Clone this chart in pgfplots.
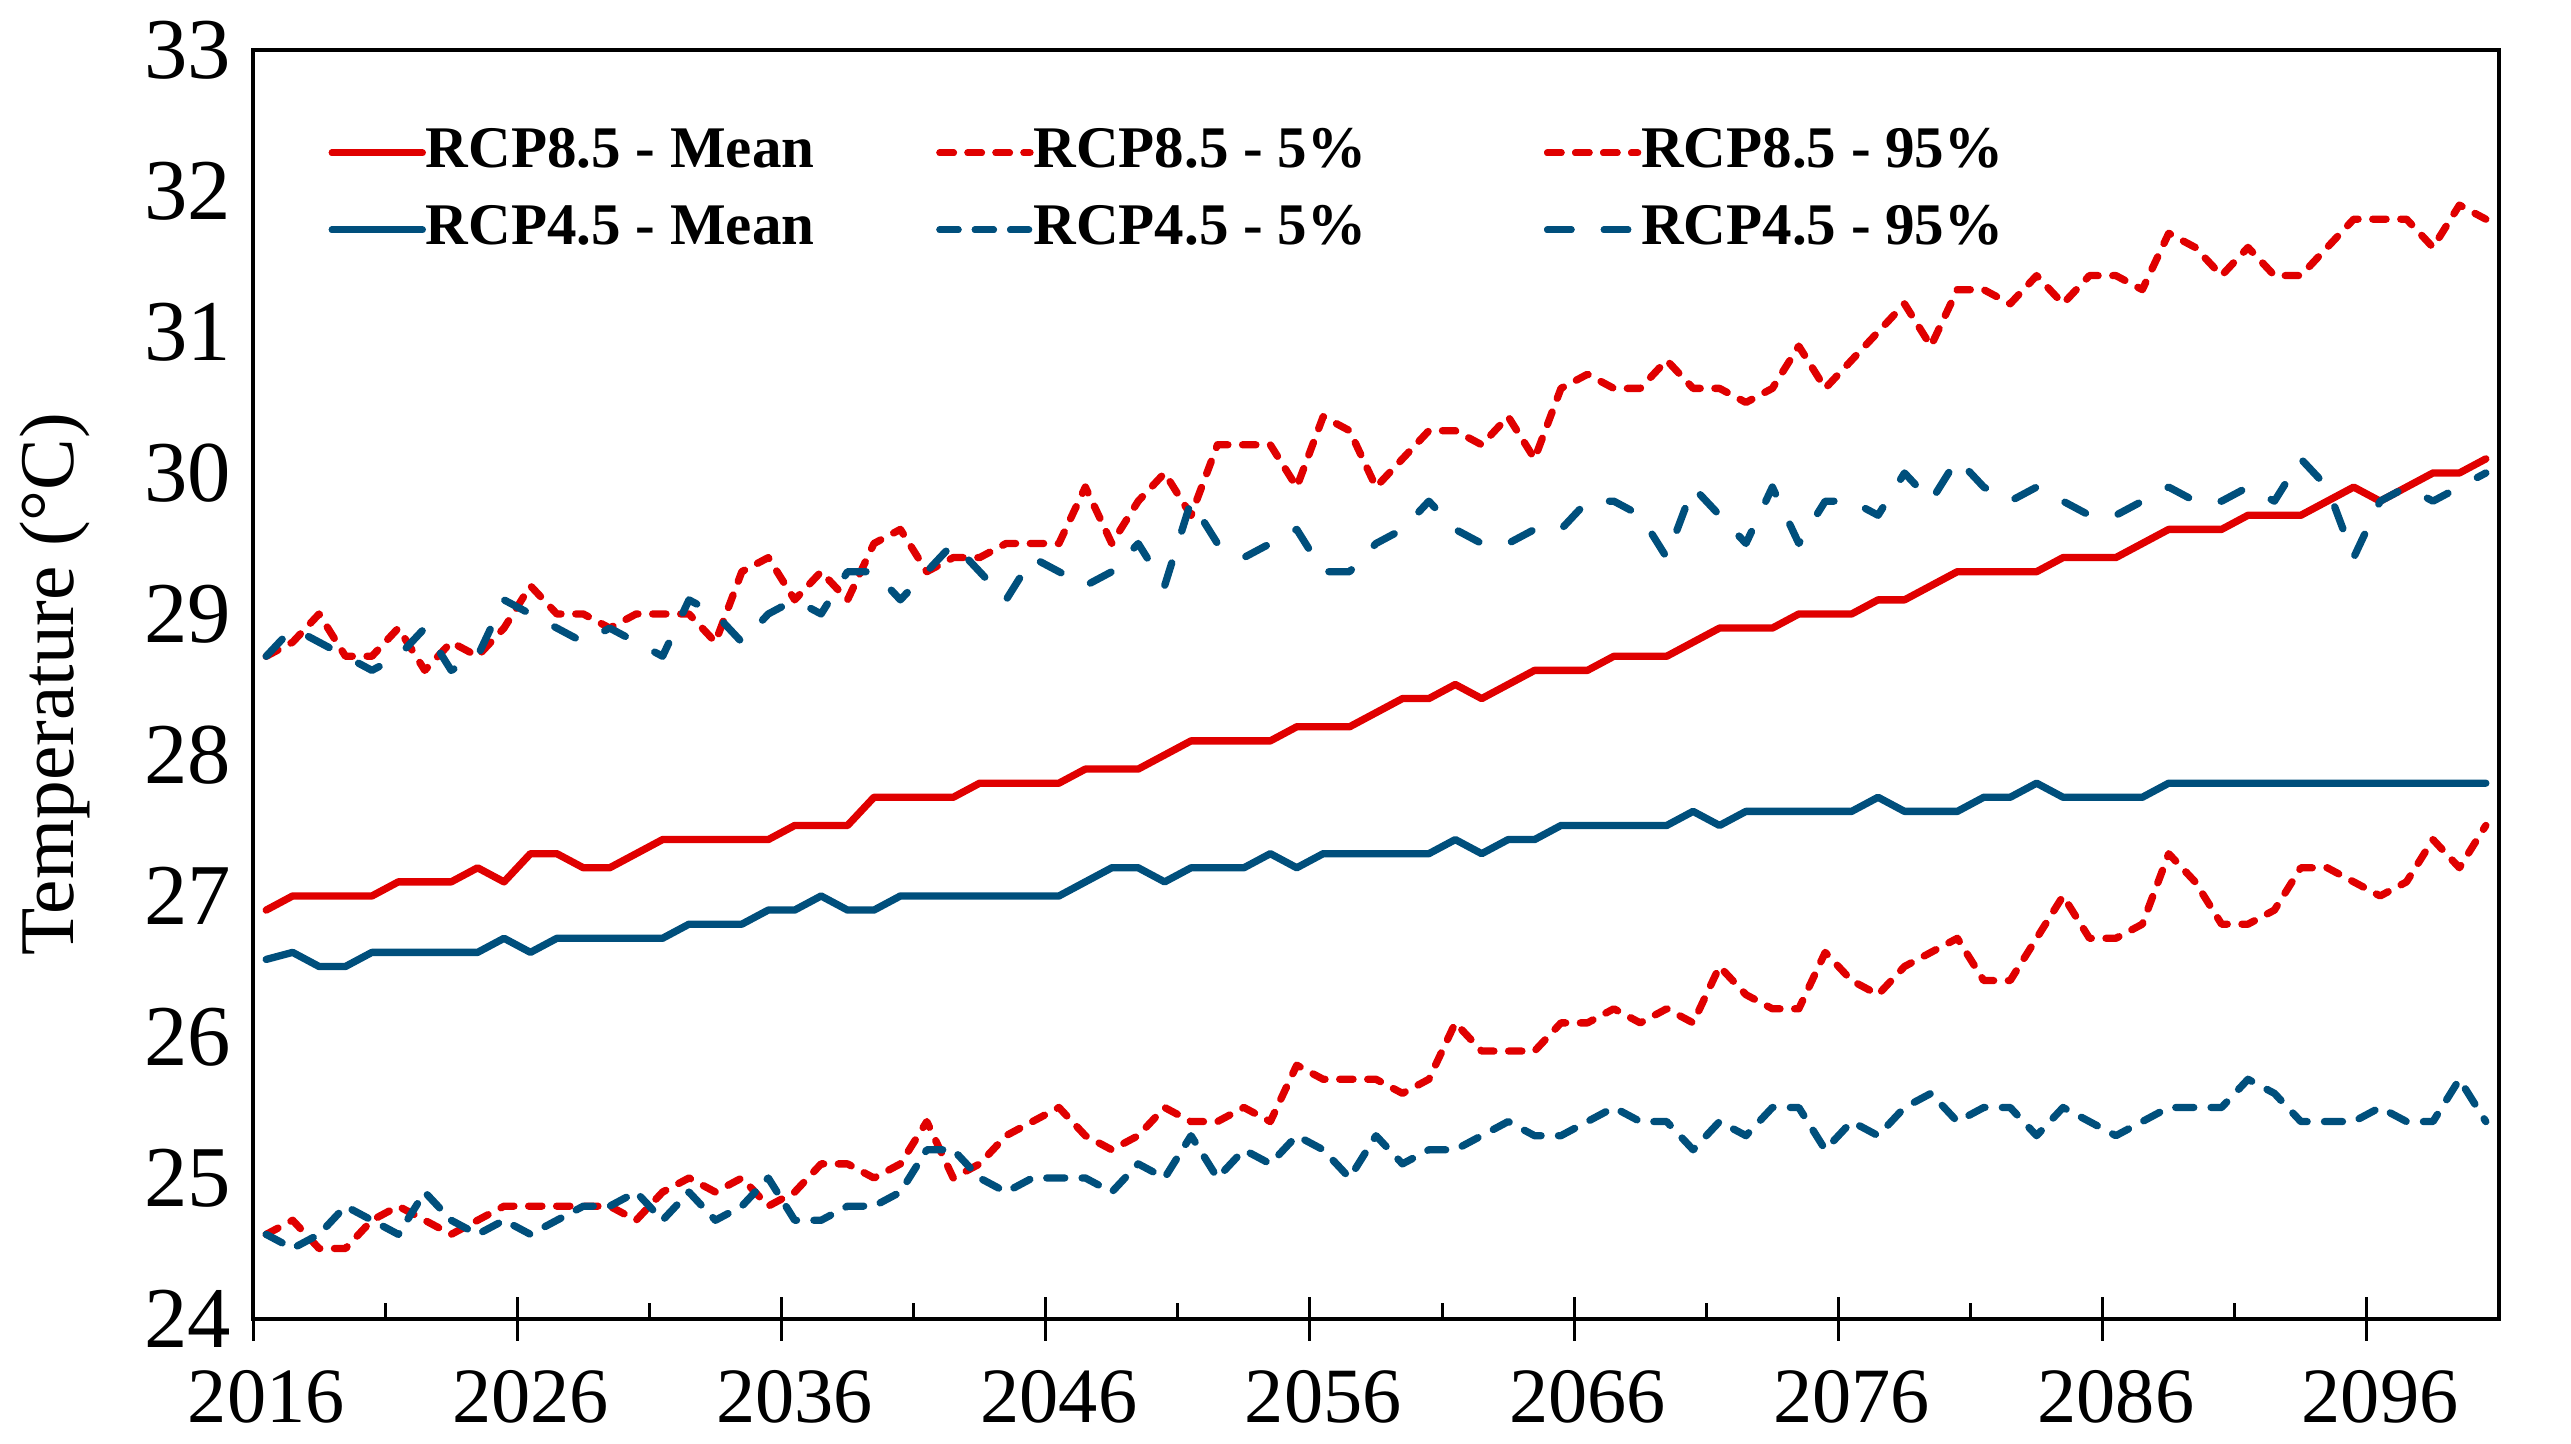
\documentclass[border=0pt]{standalone}
\usepackage{fontspec}
\setmainfont{Liberation Serif}
\usepackage{pgfplots}
\usepackage{pgfplotstable}
\pgfplotsset{compat=1.18}
\definecolor{rcpred}{RGB}{224,0,0}
\definecolor{rcpblue}{RGB}{0,79,124}

\pgfplotstableread{
year m85 l85 h85 m45 l45 h45
2016 26.9 24.6 28.7 26.55 24.6 28.7
2017 27.0 24.7 28.8 26.6 24.5 28.9
2018 27.0 24.5 29.0 26.5 24.6 28.8
2019 27.0 24.5 28.7 26.5 24.8 28.7
2020 27.0 24.7 28.7 26.6 24.7 28.6
2021 27.1 24.8 28.9 26.6 24.6 28.7
2022 27.1 24.7 28.6 26.6 24.9 28.9
2023 27.1 24.6 28.8 26.6 24.7 28.6
2024 27.2 24.7 28.7 26.6 24.6 28.7
2025 27.1 24.8 28.9 26.7 24.7 29.1
2026 27.3 24.8 29.2 26.6 24.6 29.0
2027 27.3 24.8 29.0 26.7 24.7 28.9
2028 27.2 24.8 29.0 26.7 24.8 28.8
2029 27.2 24.8 28.9 26.7 24.8 28.9
2030 27.3 24.7 29.0 26.7 24.9 28.8
2031 27.4 24.9 29.0 26.7 24.7 28.7
2032 27.4 25.0 29.0 26.8 24.9 29.1
2033 27.4 24.9 28.8 26.8 24.7 29.0
2034 27.4 25.0 29.3 26.8 24.8 28.8
2035 27.4 24.8 29.4 26.9 25.0 29.0
2036 27.5 24.9 29.1 26.9 24.7 29.1
2037 27.5 25.1 29.3 27.0 24.7 29.0
2038 27.5 25.1 29.1 26.9 24.8 29.3
2039 27.7 25.0 29.5 26.9 24.8 29.3
2040 27.7 25.1 29.6 27.0 24.9 29.1
2041 27.7 25.4 29.3 27.0 25.2 29.3
2042 27.7 25.0 29.4 27.0 25.2 29.5
2043 27.8 25.1 29.4 27.0 25.0 29.3
2044 27.8 25.3 29.5 27.0 24.9 29.1
2045 27.8 25.4 29.5 27.0 25.0 29.4
2046 27.8 25.5 29.5 27.0 25.0 29.3
2047 27.9 25.3 29.9 27.1 25.0 29.2
2048 27.9 25.2 29.5 27.2 24.9 29.3
2049 27.9 25.3 29.8 27.2 25.1 29.5
2050 28.0 25.5 30.0 27.1 25.0 29.2
2051 28.1 25.4 29.7 27.2 25.3 29.8
2052 28.1 25.4 30.2 27.2 25.0 29.5
2053 28.1 25.5 30.2 27.2 25.2 29.4
2054 28.1 25.4 30.2 27.3 25.1 29.5
2055 28.2 25.8 29.9 27.2 25.3 29.6
2056 28.2 25.7 30.4 27.3 25.2 29.3
2057 28.2 25.7 30.3 27.3 25.0 29.3
2058 28.3 25.7 29.9 27.3 25.3 29.5
2059 28.4 25.6 30.1 27.3 25.1 29.6
2060 28.4 25.7 30.3 27.3 25.2 29.8
2061 28.5 26.1 30.3 27.4 25.2 29.6
2062 28.4 25.9 30.2 27.3 25.3 29.5
2063 28.5 25.9 30.4 27.4 25.4 29.5
2064 28.6 25.9 30.1 27.4 25.3 29.6
2065 28.6 26.1 30.6 27.5 25.3 29.6
2066 28.6 26.1 30.7 27.5 25.4 29.8
2067 28.7 26.2 30.6 27.5 25.5 29.8
2068 28.7 26.1 30.6 27.5 25.4 29.7
2069 28.7 26.2 30.8 27.5 25.4 29.4
2070 28.8 26.1 30.6 27.6 25.2 29.9
2071 28.9 26.5 30.6 27.5 25.4 29.7
2072 28.9 26.3 30.5 27.6 25.3 29.5
2073 28.9 26.2 30.6 27.6 25.5 29.9
2074 29.0 26.2 30.9 27.6 25.5 29.5
2075 29.0 26.6 30.6 27.6 25.2 29.8
2076 29.0 26.4 30.8 27.6 25.4 29.8
2077 29.1 26.3 31.0 27.7 25.3 29.7
2078 29.1 26.5 31.2 27.6 25.5 30.0
2079 29.2 26.6 30.9 27.6 25.6 29.8
2080 29.3 26.7 31.3 27.6 25.4 30.1
2081 29.3 26.4 31.3 27.7 25.5 29.9
2082 29.3 26.4 31.2 27.7 25.5 29.8
2083 29.3 26.7 31.4 27.8 25.3 29.9
2084 29.4 27.0 31.2 27.7 25.5 29.8
2085 29.4 26.7 31.4 27.7 25.4 29.7
2086 29.4 26.7 31.4 27.7 25.3 29.7
2087 29.5 26.8 31.3 27.7 25.4 29.8
2088 29.6 27.3 31.7 27.8 25.5 29.9
2089 29.6 27.1 31.6 27.8 25.5 29.8
2090 29.6 26.8 31.4 27.8 25.5 29.8
2091 29.7 26.8 31.6 27.8 25.7 29.9
2092 29.7 26.9 31.4 27.8 25.6 29.8
2093 29.7 27.2 31.4 27.8 25.4 30.1
2094 29.8 27.2 31.6 27.8 25.4 29.9
2095 29.9 27.1 31.8 27.8 25.4 29.4
2096 29.8 27.0 31.8 27.8 25.5 29.8
2097 29.9 27.1 31.8 27.8 25.4 29.9
2098 30.0 27.4 31.6 27.8 25.4 29.8
2099 30.0 27.2 31.9 27.8 25.7 29.9
2100 30.1 27.5 31.8 27.8 25.4 30.0
}\datatable

\begin{document}
\begin{tikzpicture}
\begin{axis}[
  name=ax,
  scale only axis,
  width=673.8pt, height=380.7pt,
  xmin=2015.5, xmax=2100.5,
  ymin=24, ymax=33,
  xtick={2016,2026,2036,2046,2056,2066,2076,2086,2096},
  ytick={24,25,26,27,28,29,30,31,32,33},
  minor xtick={2020.5,2030.5,2040.5,2050.5,2060.5,2070.5,2080.5,2090.5},
  extra x ticks={2015.5,2025.5,2035.5,2045.5,2055.5,2065.5,2075.5,2085.5,2095.5},
  extra x tick labels={},
  extra x tick style={major tick length=13.2pt, tick align=center},
  major tick length=0pt,
  minor tick length=4.7pt,
  tick align=inside,
  xtick pos=bottom, ytick pos=left,
  ytick style={draw=none},
  tick style={line width=0.9pt, black},
  axis line style={line width=1pt},
  /pgf/number format/assume math mode=true,
  tick label style={font=\fontsize{23.5}{28}\selectfont},
  x tick label style={yshift=-12pt, /pgf/number format/1000 sep={}},
  y tick label style={xshift=-3pt, font=\fontsize{26}{30}\selectfont},
  ylabel={Temperature (°C)},
  ylabel style={at={(axis description cs:-0.088,0.5)}, anchor=center, font=\fontsize{23.2}{28}\selectfont},
  legend columns=3,
  legend cell align=left,
  legend style={at={(rel axis cs:0,1)}, anchor=north west, xshift=22.5pt, yshift=-22.15pt,
    draw=none, fill=none, inner sep=0pt, column sep=0pt, row sep=6.1pt,
    font=\fontsize{17.7}{20}\selectfont\bfseries,
    nodes={inner sep=0pt, text height=13pt, text depth=4pt}},
  legend image code/.code={\draw[#1] (0pt,0pt) -- (26pt,0pt); \path (0pt,0pt) -- (27pt,0pt);},
]
\addplot[rcpred, line width=2.2pt, line join=round, line cap=round] table[x=year,y=m85]{\datatable};
\addlegendentry{\makebox[153.1pt][l]{RCP8.5 - Mean}}
\addplot[rcpred, line width=2.2pt, line join=round, line cap=round, dash pattern=on 4pt off 4.4pt] table[x=year,y=l85]{\datatable};
\addlegendentry{\makebox[153.1pt][l]{RCP8.5 - 5\%}}
\addplot[rcpred, line width=2.2pt, line join=round, line cap=round, dash pattern=on 4pt off 4.4pt] table[x=year,y=h85]{\datatable};
\addlegendentry{\makebox[153.1pt][l]{RCP8.5 - 95\%}}
\addplot[rcpblue, line width=2.2pt, line join=round, line cap=round] table[x=year,y=m45]{\datatable};
\addlegendentry{\makebox[153.1pt][l]{RCP4.5 - Mean}}
\addplot[rcpblue, line width=2.2pt, line join=round, line cap=round, dash pattern=on 5.4pt off 5.2pt] table[x=year,y=l45]{\datatable};
\addlegendentry{\makebox[153.1pt][l]{RCP4.5 - 5\%}}
\addplot[rcpblue, line width=2.2pt, line join=round, line cap=round, dash pattern=on 7pt off 10pt] table[x=year,y=h45]{\datatable};
\addlegendentry{\makebox[153.1pt][l]{RCP4.5 - 95\%}}
\end{axis}
\pgfresetboundingbox
\path[use as bounding box] ([xshift=-75.9pt,yshift=-37.5pt]ax.south west) rectangle ([xshift=21.6pt,yshift=15pt]ax.north east);
\end{tikzpicture}
\end{document}
